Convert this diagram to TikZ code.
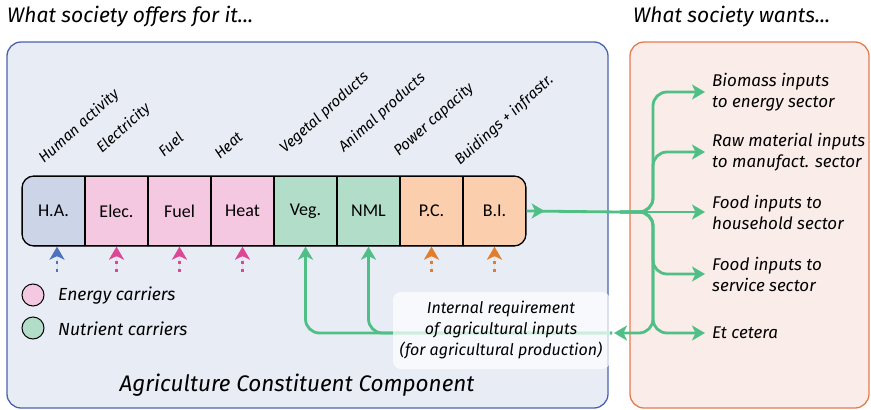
\documentclass[tikz,border=0pt]{standalone}
\usepackage{fontspec}
\setmainfont{Carlito}
\newfontfamily\hand{Fira Sans}
\usetikzlibrary{arrows.meta}
\definecolor{bluebg}{HTML}{E8ECF5}
\definecolor{bluebd}{HTML}{4B62B0}
\definecolor{redbg}{HTML}{FAECE9}
\definecolor{redbd}{HTML}{E87A50}
\definecolor{hacol}{HTML}{CCD5E8}
\definecolor{pinkc}{HTML}{F5C8E2}
\definecolor{greenc}{HTML}{B2DEC9}
\definecolor{orangec}{HTML}{FBCFAE}
\definecolor{grn}{HTML}{4FBF86}
\definecolor{bluea}{HTML}{4F72BE}
\definecolor{pinka}{HTML}{DC4896}
\definecolor{orangea}{HTML}{E27D2E}
\tikzset{
  hw/.style={font=\hand\itshape\fontsize{16}{21}\selectfont, inner sep=0pt},
  hwr/.style={font=\hand\itshape\fontsize{17}{21}\selectfont, inner sep=0pt},
  hwleg/.style={font=\hand\itshape\fontsize{17.5}{21}\selectfont, inner sep=0pt},
  hwbig/.style={font=\hand\itshape\fontsize{21}{24}\selectfont, inner sep=0pt},
  hwacc/.style={font=\hand\itshape\fontsize{22.5}{24}\selectfont, inner sep=0pt},
  rlabel/.style={font=\hand\itshape\fontsize{15}{18}\selectfont, inner sep=0pt, anchor=base west, rotate=42},
  cell/.style={draw=black, line width=1.3pt, minimum width=63pt, minimum height=70pt, inner sep=0pt, font=\fontsize{18}{20}\selectfont},
  gline/.style={draw=grn, line width=2.8pt},
  gtip/.style={-{Stealth[length=13pt,width=15pt,inset=3.5pt]}},
  dotarrow/.style={line width=2.6pt, dash pattern=on 3pt off 5pt, -{Stealth[length=13pt,width=15pt,inset=3.5pt]}},
  legc/.style={circle, draw=black, line width=1pt, minimum size=22pt, inner sep=0pt}
}
\begin{document}
\begin{tikzpicture}[x=1pt,y=-1pt]
\useasboundingbox (0,0) rectangle (871,410);
% panels
\draw[draw=bluebd, fill=bluebg, line width=1.3pt, rounded corners=14pt] (7,42) rectangle (608,408);
\draw[draw=redbd, fill=redbg, line width=1.3pt, rounded corners=14pt] (630,42) rectangle (869,408);
% titles
\node[hwbig, anchor=west] (titleL) at (7,17) {What society offers for it...};
\node[hwbig, anchor=west] (titleR) at (633,17) {What society wants...};
% cells
\begin{scope}
\clip[rounded corners=12pt] (22,176) rectangle (526,246);
\node[cell, fill=hacol] (ha) at (53.5,211) {H.A.};
\node[cell, fill=pinkc] (el) at (116.5,211) {Elec.};
\node[cell, fill=pinkc] (fu) at (179.5,211) {Fuel};
\node[cell, fill=pinkc] (he) at (242.5,211) {Heat};
\node[cell, fill=greenc] (veg) at (305.5,211) {Veg.};
\node[cell, fill=greenc] (nml) at (368.5,211) {NML};
\node[cell, fill=orangec] (pc) at (431.5,211) {P.C.};
\node[cell, fill=orangec] (bi) at (494.5,211) {B.I.};
\end{scope}
\draw[line width=1.3pt, rounded corners=12pt] (22,176) rectangle (526,246);
% rotated labels
\node[rlabel] (lha) at (44,164) {Human activity};
\node[rlabel] (lel) at (102,154) {Electricity};
\node[rlabel] (lfu) at (164,158) {Fuel};
\node[rlabel] (lhe) at (220,160) {Heat};
\node[rlabel] (lveg) at (285,154) {Vegetal products};
\node[rlabel] (lnml) at (344,153) {Animal products};
\node[rlabel] (lpc) at (399,157) {Power capacity};
\node[rlabel] (lbi) at (460,166) {Buidings + infrastr.};
% dotted arrows
\coordinate (sha) at (57,272);
\coordinate (sel) at (116.5,272);
\coordinate (sfu) at (179.5,272);
\coordinate (she) at (242.5,272);
\coordinate (spc) at (431.5,272);
\coordinate (sbi) at (494.5,272);
\draw[dotarrow, draw=bluea, fill=bluea] (sha) -- (sha |- ha.south);
\draw[dotarrow, draw=pinka, fill=pinka] (sel) -- (el.south);
\draw[dotarrow, draw=pinka, fill=pinka] (sfu) -- (fu.south);
\draw[dotarrow, draw=pinka, fill=pinka] (she) -- (he.south);
\draw[dotarrow, draw=orangea, fill=orangea] (spc) -- (pc.south);
\draw[dotarrow, draw=orangea, fill=orangea] (sbi) -- (bi.south);
% legend
\node[legc, fill=pinkc] (lege) at (33,295) {};
\node[hwleg, anchor=west] (legeT) at (58,296) {Energy carriers};
\node[legc, fill=greenc] (legn) at (33,328) {};
\node[hwleg, anchor=west] (legnT) at (58,329) {Nutrient carriers};
% right texts
\node[hwr, anchor=west, align=left] (t1) at (712,92) {Biomass inputs\\to energy sector};
\node[hwr, anchor=west, align=left] (t2) at (712,152) {Raw material inputs\\to manufact. sector};
\node[hwr, anchor=west, align=left] (t3) at (712,212) {Food inputs to\\household sector};
\node[hwr, anchor=west, align=left] (t4) at (712,274) {Food inputs to\\service sector};
\node[hwr, anchor=west, align=left] (t5) at (712,333) {Et cetera};
% green network
\coordinate (hub) at (620,212);
\coordinate (tr) at (653,212);
\coordinate (intTip) at (614,333);
\coordinate (loopR) at (612,333);
\draw[gline] (bi.east) -- (hub);
\draw[gline, gtip] (bi.east) -- ++(18,0);
\draw[gline, gtip] (hub) -- ([xshift=-7pt]t3.west);
\draw[gline, gtip, rounded corners=14pt] (hub) -- (tr) |- ([xshift=-7pt]t1.west);
\draw[gline, gtip, rounded corners=14pt] (hub) -- (tr) |- ([xshift=-7pt]t2.west);
\draw[gline, gtip, rounded corners=14pt] (hub) -- (tr) |- ([xshift=-7pt]t4.west);
\draw[gline, gtip, rounded corners=14pt] (hub) -- (tr) |- ([xshift=-7pt]t5.west);
\draw[gline, gtip, rounded corners=14pt] (hub) -- (tr) |- (intTip);
\draw[gline, gtip, rounded corners=14pt] (loopR) -| (veg.south);
\draw[gline, gtip, rounded corners=14pt] (loopR) -| (nml.south);
% internal box
\fill[white, opacity=0.72, rounded corners=8pt] (393,292) rectangle (610,369);
\node[hw, align=center] (intT) at (501,330) {Internal requirement\\of agricultural inputs\\(for agricultural production)};
% bottom title
\node[hwacc] (acc) at (297,385) {Agriculture Constituent Component};
\end{tikzpicture}
\end{document}
